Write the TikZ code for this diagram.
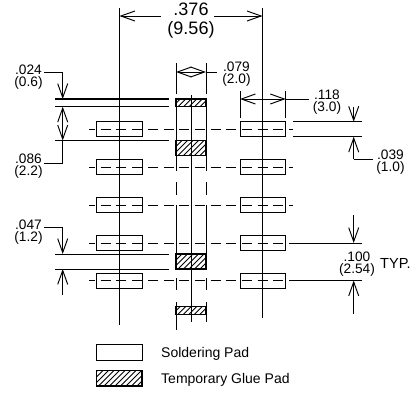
\documentclass[tikz,border=0pt]{standalone}
\usepackage{fontspec}
\setmainfont{Liberation Sans}
\usetikzlibrary{arrows.meta}
\tikzset{
  ln/.style={line width=0.95pt,black},
  tipp/.style={line width=0.95pt,black},
  arr/.style={tipp,-{Straight Barb[length=14pt,width=10pt,line width=0.95pt]}},
  barr/.style={tipp,{Straight Barb[length=14pt,width=10pt,line width=0.95pt]}-{Straight Barb[length=14pt,width=10pt,line width=0.95pt]}},
  center line/.style={line width=0.95pt,black,dash pattern=on 10pt off 5.7pt,dash phase=4pt},
  pad/.style={line width=0.95pt,black},
  lab/.style={anchor=north,inner sep=0pt,align=center,font=\fontsize{13.7}{12}\selectfont},
  big/.style={anchor=north,inner sep=0pt,align=center,font=\fontsize{18}{19}\selectfont},
  leg/.style={anchor=west,inner sep=0pt,font=\fontsize{14}{16}\selectfont}
}
\newcommand{\hatchbox}[5][1.2pt]{%
  \begin{scope}
    \clip (#2,#3) rectangle (#4,#5);
    \foreach \k in {0,5.5,...,90} {
      \draw[line width=0.95pt] ({#2+\k-20},#5) -- ({#2+\k-20+(#5-#3)},#3);
    }
  \end{scope}
  \draw[line width=#1] (#2,#3) rectangle (#4,#5);
}
\begin{document}
\begin{tikzpicture}[x=1pt,y=-1pt]
\useasboundingbox (0,0) rectangle (417,392);
\fill[white] (0,0) rectangle (417,392);
% main centre lines
\draw[ln] (119.5,8) -- (119.5,325);
\draw[ln] (262.5,8) -- (262.5,318);
\draw[ln] (191,95) -- (191,322);
% side lines of glue pads
\foreach \x/\e in {176/330,206/322} {
  \draw[ln] (\x,63) -- (\x,94);
  \draw[ln] (\x,107) -- (\x,140);
  \draw[ln] (\x,156) -- (\x,171);
  \draw[ln] (\x,182) -- (\x,195);
  \draw[ln] (\x,205) -- (\x,254);
  \draw[ln] (\x,278) -- (\x,290);
  \draw[ln] (\x,302) -- (\x,\e);
}
% pads and their dashed centre lines
\foreach \y in {129,167,205,243,280.5} {
  \draw[center line] (89,\y) -- (293,\y);
  \draw[pad] (96.5,\y-7.5) rectangle (142,\y+7.5);
  \draw[pad] (240,\y-7.5) rectangle (285.7,\y+7.5);
}
% glue pads
\hatchbox[1.4pt]{176}{99}{206}{106.7}
\hatchbox[1.4pt]{176}{140.5}{206}{155.5}
\hatchbox[1.4pt]{176}{254}{206}{269}
\hatchbox[1.4pt]{176}{306.5}{206}{314.3}
% left extension lines
\draw[line width=1.5pt] (55,99) -- (169,99);
\foreach \y in {106.7,140.5,254,269} \draw[ln] (55,\y) -- (169,\y);
% right extension lines
\foreach \y in {121.7,136.7,243,280.5} \draw[ln] (293,\y) -- (362,\y);
% .376
\draw[arr] (161,16) -- (119.5,16);
\draw[arr] (214,16) -- (262.5,16);
\node[big] (d376) at (191,3) {.376\\(9.56)};
% .079
\draw[barr] (176,72) -- (206,72);
\draw[ln] (206,72) -- (217,72);
\node[lab] (d079) at (236.5,62) {.079\\(2.0)};
% .118
\draw[ln] (240,91) -- (240,118);
\draw[ln] (285.7,91) -- (285.7,118);
\draw[barr] (240,99) -- (285.7,99);
\draw[ln] (285.7,99) -- (308.7,99);
\node[lab] (d118) at (327,90) {.118\\(3.0)};
% .039
\draw[arr] (353.7,107) -- (353.7,121.7);
\draw[arr] (353.7,159) -- (353.7,136.7);
\draw[ln] (353.7,159) -- (372.7,159);
\node[lab] (d039) at (390.5,150) {.039\\(1.0)};
% .100
\draw[arr] (353.7,215) -- (353.7,243);
\draw[arr] (353.7,314) -- (353.7,280.5);
\node[lab] (d100) at (357,252) {.100\\(2.54)};
\node[anchor=west,inner sep=0pt,font=\fontsize{14.6}{12}\selectfont] (typ) at (380,263) {TYP.};
% .024
\draw[ln] (44,72) -- (62.7,72);
\draw[arr] (62.7,72) -- (62.7,99);
\node[lab] (d024) at (28.5,65) {.024\\(0.6)};
% .086
\draw[barr] (62.7,106.7) -- (62.7,140.5);
\draw[ln] (44,163) -- (62.7,163) -- (62.7,140.5);
\node[lab] (d086) at (28.5,154) {.086\\(2.2)};
% .047
\draw[ln] (44,227) -- (62.7,227);
\draw[arr] (62.7,227) -- (62.7,254);
\draw[arr] (62.7,295) -- (62.7,269);
\node[lab] (d047) at (28.5,220) {.047\\(1.2)};
% legend
\draw[line width=0.95pt] (96.5,344) rectangle (142,360);
\hatchbox[1.4pt]{96.5}{370.7}{142}{386}
\node[leg] (l1) at (161,353.7) {Soldering Pad};
\node[leg] (l2) at (161,380) {Temporary Glue Pad};
\end{tikzpicture}
\end{document}
